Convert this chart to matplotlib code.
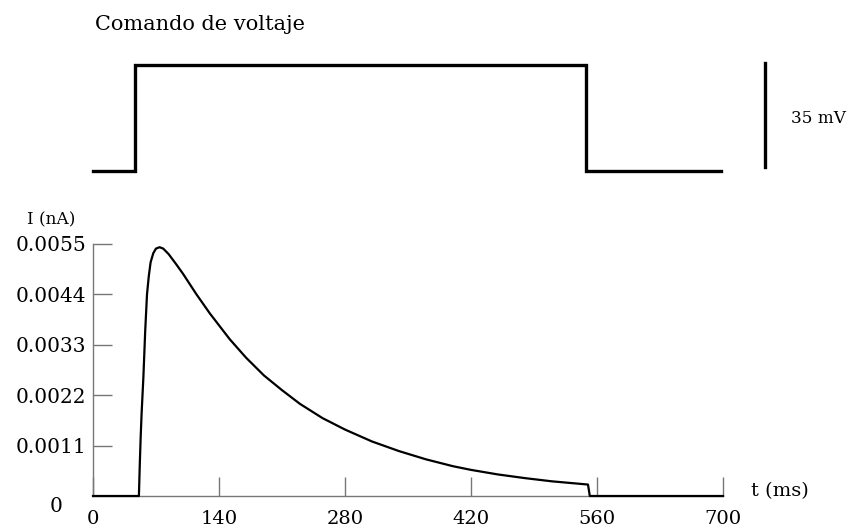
import numpy as np
import matplotlib
matplotlib.use("Agg")
import matplotlib.pyplot as plt

plt.rcParams["font.family"] = ["DejaVu Serif"]

# voltage command (mV) vs time (ms)
v_time = [0, 47, 47, 548, 548, 698]
v_mv = [0, 0, 35, 35, 0, 0]

# current response (nA)
i_time = [0, 51, 52, 53, 54, 56, 58, 60, 62, 64, 67, 70, 74, 78, 84, 92, 100,
          115, 130, 152, 170, 190, 210, 230, 255, 280, 310, 340, 370, 400,
          420, 450, 480, 510, 550, 552, 700]
i_na = [0, 0, 0.0007, 0.0013, 0.0018, 0.0026, 0.0036, 0.0044, 0.0048, 0.0051,
        0.0053, 0.00540, 0.00543, 0.00540, 0.00528, 0.00507, 0.00485,
        0.00440, 0.00398, 0.00342, 0.00302, 0.00263, 0.00231, 0.00201,
        0.00170, 0.00145, 0.00119, 0.00098, 0.00080, 0.00065, 0.00057,
        0.00047, 0.00039, 0.00032, 0.00025, 0, 0]

x_ticks = [0, 140, 280, 420, 560, 700]
y_ticks = [0.0011, 0.0022, 0.0033, 0.0044, 0.0055]
y_tick_labels = ["0.0011", "0.0022", "0.0033", "0.0044", "0.0055"]

W, H = 861, 531
fig = plt.figure(figsize=(W / 100, H / 100), dpi=100)

left = 93 / W
width = (723 - 93) / W

# top panel: voltage command
ax_v = fig.add_axes([left, 1 - 171 / H, width, (171 - 65) / H])
ax_v.plot(v_time, v_mv, color="black", lw=2.4, solid_joinstyle="miter",
          clip_on=False)
ax_v.set_xlim(0, 700)
ax_v.set_ylim(0, 35)
ax_v.axis("off")
ax_v.plot([746.5, 746.5], [1.2, 35.7], color="black", lw=2.4, clip_on=False)
ax_v.text(776, 17.5, "35 mV", fontsize=12.2, va="center", ha="left")
fig.text(95 / W, 1 - 25 / H, "Comando de voltaje", fontsize=15,
         va="center", ha="left")

# bottom panel: current
ax_i = fig.add_axes([left, 1 - 496 / H, width, (496 - 244) / H])
ax_i.plot(i_time, i_na, color="black", lw=1.6, clip_on=False, zorder=3)
ax_i.set_xlim(0, 700)
ax_i.set_ylim(0, 0.0055)
for s in ["top", "right"]:
    ax_i.spines[s].set_visible(False)
for s in ["left", "bottom"]:
    ax_i.spines[s].set_color("#777777")
    ax_i.spines[s].set_linewidth(1.0)
ax_i.set_xticks(x_ticks)
ax_i.set_xticklabels([str(t) for t in x_ticks])
ax_i.set_yticks(y_ticks)
ax_i.set_yticklabels(y_tick_labels)
ax_i.tick_params(axis="both", direction="in", length=14, width=1.0,
                 color="#777777", labelsize=14.5)
ax_i.tick_params(axis="x", pad=10, labelsize=14)
ax_i.tick_params(axis="y", pad=5)
ax_i.text(-34, -0.00022, "0", fontsize=14.5, ha="right", va="center")
ax_i.text(-0.104, 1.095, "I (nA)", transform=ax_i.transAxes,
          fontsize=12.2, ha="left", va="center")
ax_i.text(1.045, 0.02, "t (ms)", transform=ax_i.transAxes, fontsize=14,
          ha="left", va="center")

fig.savefig("out.png", dpi=100)
